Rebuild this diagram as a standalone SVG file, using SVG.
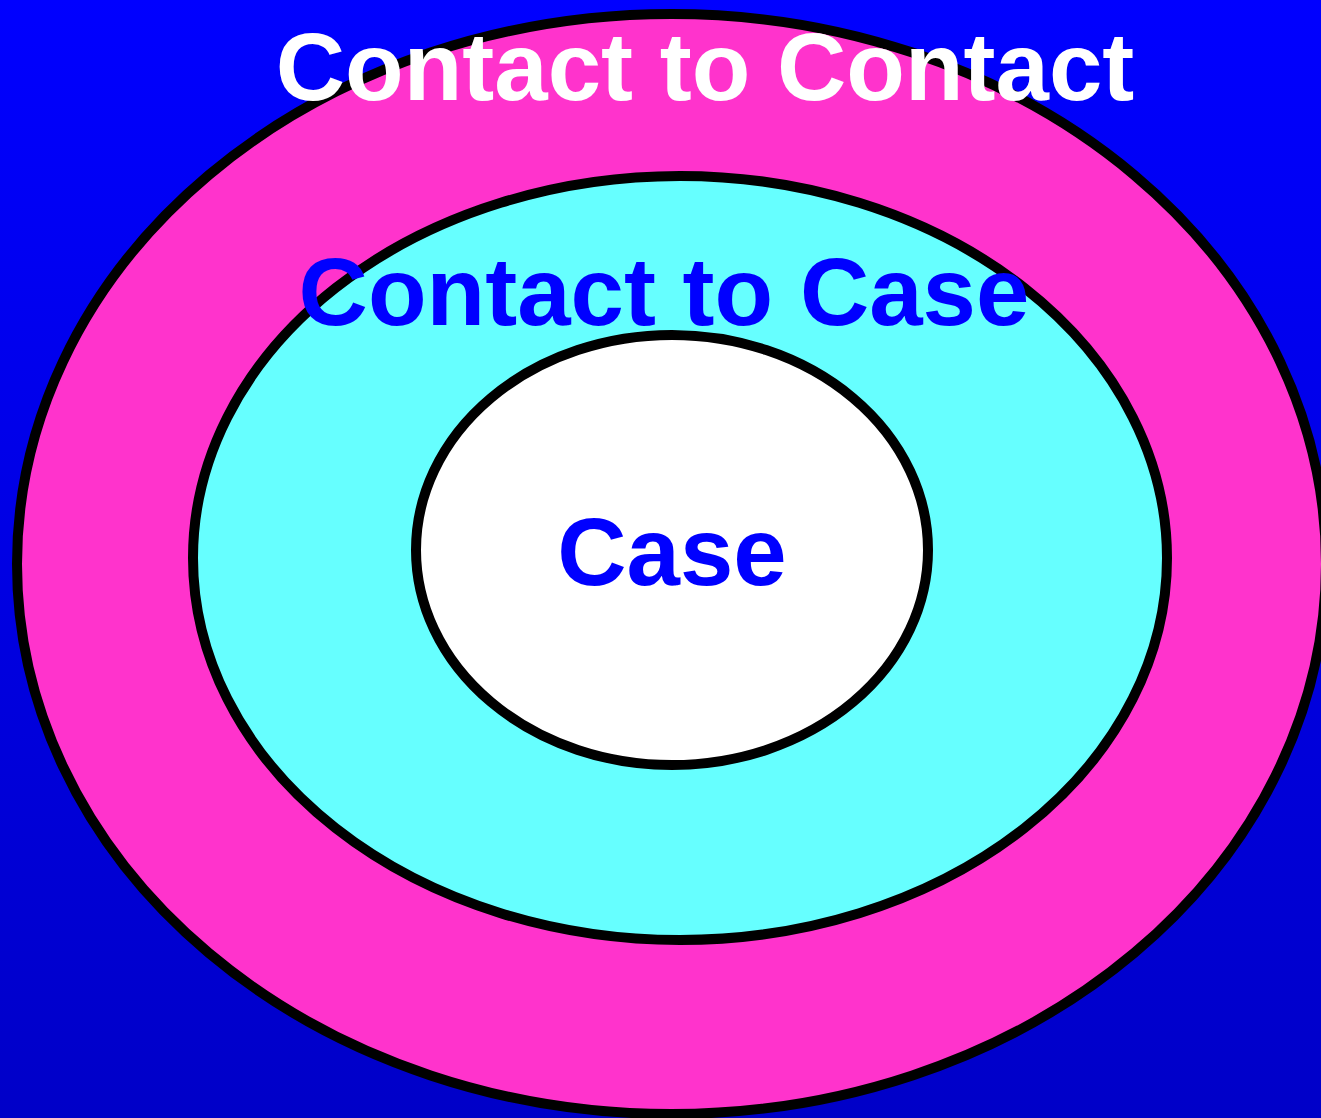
<svg xmlns="http://www.w3.org/2000/svg" width="1321" height="1118" viewBox="0 0 1321 1118">
  <defs>
    <linearGradient id="bg" x1="0" y1="0" x2="0" y2="1">
      <stop offset="0" stop-color="#0000FF"/>
      <stop offset="1" stop-color="#0000C8"/>
    </linearGradient>
  </defs>
  <style>
    .ring { stroke: #000000; stroke-width: 10; }
    .lbl { font-family: "Liberation Sans", Arial, sans-serif; font-weight: bold; font-size: 96px; text-anchor: middle; }
  </style>
  <rect x="0" y="0" width="1321" height="1118" fill="url(#bg)"/>
  <g id="contact-to-contact">
    <ellipse class="ring" cx="671.5" cy="564" rx="654.5" ry="550" fill="#FF33CC"/>
  </g>
  <g id="contact-to-case">
    <ellipse class="ring" cx="680" cy="558" rx="487" ry="382" fill="#66FFFF"/>
  </g>
  <g id="case">
    <ellipse class="ring" cx="672" cy="550" rx="256" ry="215" fill="#FFFFFF"/>
  </g>
  <g id="labels">
    <text class="lbl" x="705" y="100" fill="#FFFFFF">Contact to Contact</text>
    <text class="lbl" x="664" y="325" fill="#0000FF">Contact to Case</text>
    <text class="lbl" x="672" y="585" fill="#0000FF">Case</text>
  </g>
  <g id="connectors"/>
</svg>
